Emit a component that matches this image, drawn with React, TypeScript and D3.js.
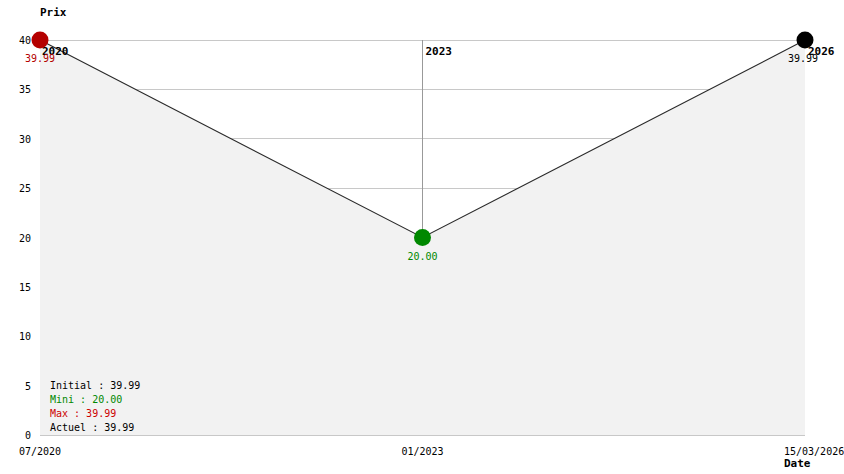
import * as d3 from 'd3';
import React, { useEffect } from 'react';

// chart data
const dates = ['07/2020', '01/2023', '15/03/2026'];
const years = ['2020', '2023', '2026'];
const prices = [39.99, 20.0, 39.99];
const pointColors = ['#b40000', '#008800', '#000000'];
const yTicks = [0, 5, 10, 15, 20, 25, 30, 35, 40];
const summaryLabels = ['Initial : 39.99', 'Mini : 20.00', 'Max : 39.99', 'Actuel : 39.99'];
const summaryColors = ['#000000', '#008800', '#cc0000', '#000000'];

const W = 844;
const H = 474;
const font = '"DejaVu Sans Mono", "Liberation Mono", monospace';

const App = () => {
    useEffect(() => {
        document.body.style.margin = '0';
    }, []);

    const x = d3.scalePoint<string>().domain(dates).range([40, 805]);
    const y = d3.scaleLinear().domain([0, 40]).range([435, 40]);

    const pts = dates.map((d, i) => ({ d, v: prices[i], yr: years[i], c: pointColors[i] }));

    const area = d3.area<any>()
        .x(p => x(p.d) as number)
        .y0(y(0))
        .y1(p => y(p.v));
    const line = d3.line<any>()
        .x(p => x(p.d) as number)
        .y(p => y(p.v));

    return (
        <svg width={W} height={H} style={{ display: 'block', fontFamily: font }}>
            {/* grid */}
            {yTicks.map(t => (
                <line key={'g' + t} x1={x(dates[0])} x2={x(dates[dates.length - 1])}
                    y1={y(t)} y2={y(t)} stroke="#c8c8c8" strokeWidth={1} shapeRendering="crispEdges" />
            ))}
            {/* year separators */}
            {pts.slice(1, -1).map(p => (
                <line key={'v' + p.yr} x1={x(p.d)} x2={x(p.d)} y1={y(40)} y2={y(0)}
                    stroke="#999999" strokeWidth={1} shapeRendering="crispEdges" />
            ))}
            <path d={area(pts) as string} fill="#f2f2f2" />
            <path d={line(pts) as string} fill="none" stroke="#2a2a2a" strokeWidth={1.1} />

            {/* y axis labels */}
            {yTicks.map(t => (
                <text key={'t' + t} x={31} y={y(t) + 4} textAnchor="end" fontSize={10}>{t}</text>
            ))}
            {/* x axis labels */}
            {pts.map((p, i) => (
                <text key={'x' + i} x={i === pts.length - 1 ? (x(p.d) as number) - 21 : x(p.d)} y={455}
                    textAnchor={i === pts.length - 1 ? 'start' : 'middle'} fontSize={10}>{p.d}</text>
            ))}

            <text x={40} y={16} fontSize={11} fontWeight="bold">Prix</text>
            <text x={784} y={467} fontSize={11} fontWeight="bold">Date</text>

            {/* first year label sits under its point */}
            <text x={(x(pts[0].d) as number) + 2} y={55} fontSize={11} fontWeight="bold">{pts[0].yr}</text>
            {pts.map((p, i) => (
                <circle key={'c' + i} cx={x(p.d)} cy={y(p.v)} r={8.5} fill={p.c} />
            ))}
            {pts.slice(1).map(p => (
                <text key={'yr' + p.yr} x={(x(p.d) as number) + 3} y={55} fontSize={11} fontWeight="bold">{p.yr}</text>
            ))}
            {pts.map((p, i) => (
                <text key={'v' + i} x={(x(p.d) as number) - (i === pts.length - 1 ? 2 : 0)} y={y(p.v) + 22}
                    textAnchor="middle" fontSize={10} fill={p.c}>
                    {p.v.toFixed(2)}
                </text>
            ))}

            {/* summary */}
            {summaryLabels.map((s, i) => (
                <text key={'s' + i} x={50} y={389 + i * 14} fontSize={10} fill={summaryColors[i]}>{s}</text>
            ))}
        </svg>
    );
};

export default App;
